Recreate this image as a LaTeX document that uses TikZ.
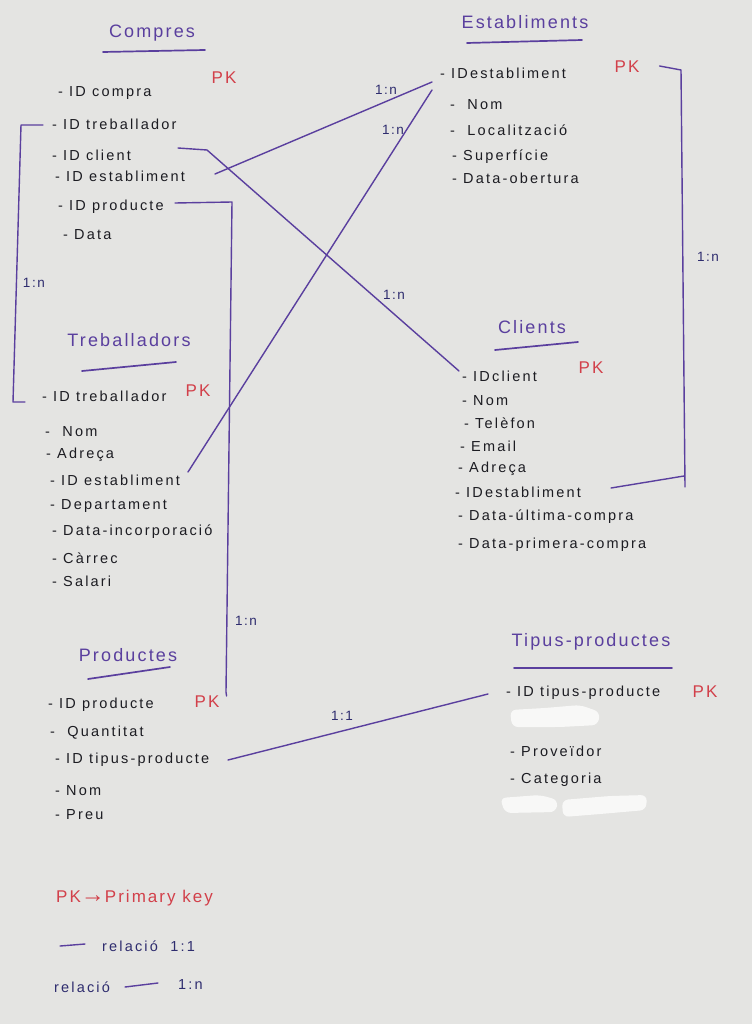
\documentclass[tikz,border=0pt]{standalone}
\usepackage{fontspec}
\setmainfont{Liberation Sans}
\newfontfamily\hand[LetterSpace=15]{Liberation Sans}
\newfontfamily\handt[LetterSpace=12]{Liberation Sans}
\usetikzlibrary{calc}
\definecolor{board}{HTML}{E4E4E2}
\definecolor{ink}{HTML}{1C1C22}
\definecolor{violet}{HTML}{5A3F9E}
\definecolor{pkred}{HTML}{D2404A}
\definecolor{navy}{HTML}{2E2C6E}
\tikzset{
  item/.style={anchor=west, inner sep=0pt, text=ink, font=\hand\fontsize{14.5}{16}\selectfont},
  ttl/.style={inner sep=0pt, text=violet, font=\handt\fontsize{18}{20}\selectfont},
  pk/.style={inner sep=0pt, text=pkred, font=\handt\fontsize{17}{19}\selectfont},
  uline/.style={draw=violet, line width=1.7pt, line cap=round},
  rel/.style={draw=violet, line width=1.4pt, line cap=round, line join=round},
  card/.style={inner sep=0pt, text=navy, font=\handt\fontsize{13.5}{15}\selectfont},
  smudge/.style={fill=white, opacity=0.75, rounded corners=6pt},
  legtxt/.style={anchor=west, inner sep=0pt, text=navy, font=\hand\fontsize{14.5}{16}\selectfont},
}
\begin{document}
\begin{tikzpicture}[x=1pt, y=-1pt]
\useasboundingbox (0,0) rectangle (752,1024);
\fill[board] (0,0) rectangle (752,1024);

% ---------- Compres ----------
\node[ttl] (tcomp) at (152,33) {Compres};
\draw[uline] (103,52) -- (205,50);
\node[item] (c1) at (58,93) {- ID compra};
\node[pk] (cpk) at (224,78) {PK};
\node[item] (c2) at (52,124) {- ID treballador};
\node[item] (c3) at (52,155) {- ID client};
\node[item] (c4) at (55,176) {- ID establiment};
\node[item] (c5) at (58,207) {- ID producte};
\node[item] (c6) at (63,235) {- Data};

% ---------- Establiments ----------
\node[ttl] (test) at (525,22) {Establiments};
\draw[uline] (467,43) -- (582,40);
\node[item] (e1) at (440,73) {- IDestabliment};
\node[pk] (epk) at (627,67) {PK};
\node[item] (e2) at (450,105) {-\ \ Nom};
\node[item] (e3) at (450,130) {-\ \ Localització};
\node[item] (e4) at (452,157) {- Superfície};
\node[item] (e5) at (452,178) {- Data-obertura};

% ---------- Treballadors ----------
\node[ttl] (ttreb) at (129,340) {Treballadors};
\draw[uline] (82,371) -- (176,362);
\node[item] (t1) at (42,396) {- ID treballador};
\node[pk] (tpk) at (198,391) {PK};
\node[item] (t2) at (45,432) {-\ \ Nom};
\node[item] (t3) at (46,455) {- Adreça};
\node[item] (t4) at (50,480) {- ID establiment};
\node[item] (t5) at (50,506) {-\ Departament};
\node[item] (t6) at (52,532) {- Data-incorporació};
\node[item] (t7) at (52,558) {- Càrrec};
\node[item] (t8) at (52,581) {- Salari};

% ---------- Clients ----------
\node[ttl] (tcli) at (532,327) {Clients};
\draw[uline] (495,350) -- (578,342);
\node[item] (k1) at (462,376) {- IDclient};
\node[pk] (kpk) at (591,368) {PK};
\node[item] (k2) at (462,401) {- Nom};
\node[item] (k3) at (464,423) {- Telèfon};
\node[item] (k4) at (460,446) {- Email};
\node[item] (k5) at (458,469) {- Adreça};
\node[item] (k6) at (455,492) {- IDestabliment};
\node[item] (k7) at (458,517) {- Data-última-compra};
\node[item] (k8) at (458,545) {- Data-primera-compra};

% ---------- Productes ----------
\node[ttl] (tprod) at (128,655) {Productes};
\draw[uline] (88,679) -- (170,667);
\node[item] (p1) at (48,705) {- ID producte};
\node[pk] (ppk) at (207,702) {PK};
\node[item] (p2) at (50,733) {-\ \ Quantitat};
\node[item] (p3) at (55,760) {- ID tipus-producte};
\node[item] (p4) at (55,791) {- Nom};
\node[item] (p5) at (55,815) {- Preu};

% ---------- Tipus-productes ----------
\node[ttl] (ttip) at (591,642) {Tipus-productes};
\draw[uline] (514,668) -- (672,668);
\node[item] (q1) at (506,693) {- ID tipus-producte};
\node[pk] (qpk) at (705,692) {PK};
\node[item] (q2) at (510,751) {- Proveïdor};
\node[item] (q3) at (510,780) {- Categoria};
\path[smudge] (510,710) -- (545,708) -- (580,705) -- (600,712) -- (598,725) -- (560,727) -- (512,727) -- cycle;
\path[smudge] (500,798) -- (540,795) -- (558,800) -- (556,812) -- (505,813) -- cycle;
\path[smudge] (562,800) -- (610,796) -- (647,795) -- (646,810) -- (600,814) -- (563,817) -- cycle;

% ---------- Relations ----------
% Compres.ID treballador -- Treballadors.ID treballador
\draw[rel] ($(c2.west)+(-9,1)$) -- (21,125) -- (13,402) -- ($(t1.west)+(-17,6)$);
\node[card] (r1) at (34,283) {1:n};
% Compres.ID client -- Clients.IDclient
\draw[rel] (178,148) -- (207,150) -- ($(k1.west)+(-3,-5)$);
\node[card] (r2) at (394,295) {1:n};
% Compres.ID establiment -- Establiments.IDestabliment
\draw[rel] (215,174) -- ($(e1.west)+(-8,9)$);
\node[card] (r3) at (386,90) {1:n};
% Treballadors.ID establiment -- Establiments.IDestabliment
\draw[rel] (188,472) -- ($(e1.west)+(-8,17)$);
\node[card] (r4) at (393,130) {1:n};
% Compres.ID producte -- Productes.ID producte
\draw[rel] (175,203) -- (232,202) -- (226,692) -- ($(ppk.north east)+(7,0)$);
\node[card] (r5) at (246,621) {1:n};
% Establiments.IDestabliment -- Clients.IDestabliment
\draw[rel] ($(epk.east)+(20,-1)$) -- (681,70) -- (685,487);
\draw[rel] (611,488) -- (684,476);
\node[card] (r6) at (708,257) {1:n};
% Productes.ID tipus-producte -- Tipus-productes.ID tipus-producte
\draw[rel] (228,760) -- ($(q1.west)+(-18,1)$);
\node[card] (r7) at (342,716) {1:1};

% ---------- Legend ----------
\node[pk, anchor=west] (leg1) at (56,898) {PK{\fontsize{24}{24}\selectfont →}Primary key};
\coordinate (l2a) at (60,946);
\draw[rel] (l2a) -- (85,944);
\node[legtxt] (leg2) at (102,946) {relació \ 1:1};
\node[legtxt] (leg3) at (54,987) {relació};
\draw[rel] (125,987) -- (158,983);
\node[legtxt] (leg3b) at (178,984) {1:n};
\end{tikzpicture}
\end{document}
